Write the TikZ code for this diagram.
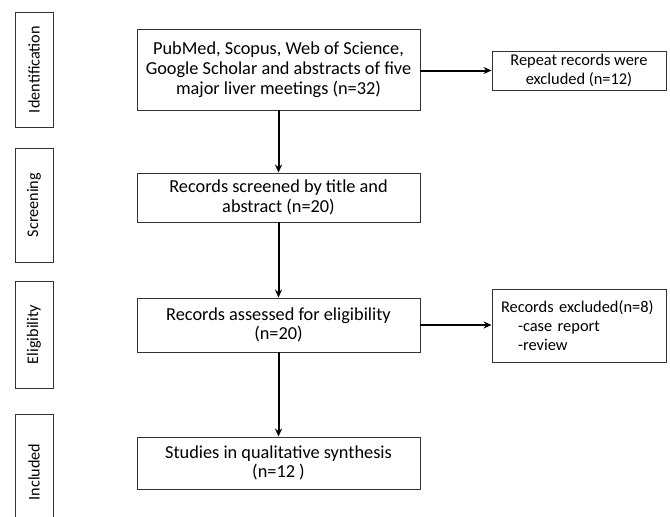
\documentclass[tikz,border=0pt]{standalone}
\usepackage{fontspec}
\setmainfont{Carlito}
\usetikzlibrary{arrows.meta,shadows}
\tikzset{
  box/.style={draw=black!80, line width=0.9pt, fill=white, align=center, inner sep=2pt,
    font=\fontsize{18.3}{19.8}\selectfont,
    drop shadow={shadow xshift=1.2pt, shadow yshift=-1.2pt, opacity=0.35, fill=black!60}},
  mainbox/.style={box, minimum width=283pt},
  sidebox/.style={box, rotate=90, minimum height=38pt, font=\fontsize{16.2}{19}\selectfont},
  exbox/.style={box, minimum width=174pt, font=\fontsize{16.4}{19}\selectfont},
  flow/.style={line width=2pt, -{Stealth[length=8pt,width=7pt]}}
}
\begin{document}
\begin{tikzpicture}[x=1pt,y=-1pt]
\clip (0,0) rectangle (670,517);
\fill[white] (0,0) rectangle (670,517);
% stage labels
\node[sidebox, minimum width=115pt] (sid) at (34,69.5) {Identification};
\node[sidebox, minimum width=114pt] (sscr) at (34,205) {Screening};
\node[sidebox, minimum width=107pt] (seli) at (34,334.5) {Eligibility};
\node[sidebox, minimum width=115pt] (sinc) at (34,472) {Included};
% main flow
\node[mainbox, minimum height=81pt] (b1) at (278.5,69.5) {PubMed, Scopus, Web of Science,\\Google Scholar and abstracts of five\\major liver meetings (n=32)};
\node[mainbox, minimum height=49pt] (b2) at (278.5,197.5) {Records screened by title and\\abstract (n=20)};
\node[mainbox, minimum height=54pt] (b3) at (278.5,325) {Records assessed for eligibility\\(n=20)};
\node[mainbox, minimum height=52pt] (b4) at (278.5,463) {Studies in qualitative synthesis\\(n=12 )};
% side exclusions
\node[exbox, minimum height=39pt] (r1) at (579,70.5) {Repeat records were\\excluded (n=12)};
\node[exbox, minimum height=73pt, align=left, text width=156pt] (r2) at (579,325.5) {Records excluded(n=8)\\\hspace*{17pt}-case report\\\hspace*{17pt}-review};
% connectors
\draw[flow] (b1) -- (b2);
\draw[flow] (b2) -- (b3);
\draw[flow] (b3) -- (b4);
\draw[flow] (b1.east |- r1.west) -- (r1.west);
\draw[flow] (b3.east) -- (r2.west |- b3.east);
\end{tikzpicture}
\end{document}
